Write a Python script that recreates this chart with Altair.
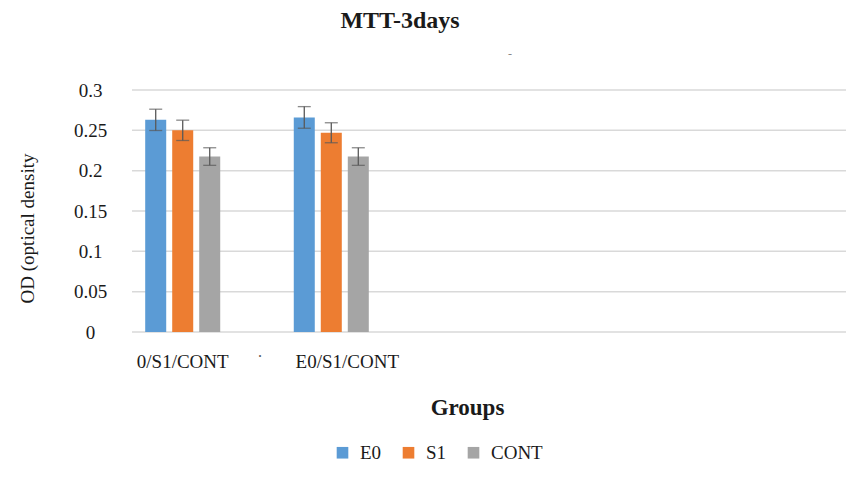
import altair as alt
import pandas as pd

groups = ["0/S1/CONT", "E0/S1/CONT"]
series = ["E0", "S1", "CONT"]
colors = ["#5B9BD5", "#ED7D31", "#A5A5A5"]
E0_vals = [0.263, 0.266]
S1_vals = [0.250, 0.247]
CONT_vals = [0.2175, 0.2175]
E0_err = [0.0132, 0.0134]
S1_err = [0.0126, 0.0124]
CONT_err = [0.0109, 0.0109]
y_ticks = [0, 0.05, 0.1, 0.15, 0.2, 0.25, 0.3]

rows = []
for s, vals, errs in [("E0", E0_vals, E0_err), ("S1", S1_vals, S1_err), ("CONT", CONT_vals, CONT_err)]:
    for g, v, e in zip(groups, vals, errs):
        rows.append({"group": g, "series": s, "value": v, "lo": v - e, "hi": v + e})
df = pd.DataFrame(rows)
grid_df = pd.DataFrame({"tick": y_ticks})

FONT = "Liberation Serif"
TXT = "#1a1a1a"

x_axis = alt.Axis(
    title="Groups", titleFont=FONT, titleFontSize=23, titleFontWeight="bold",
    titleColor=TXT, titleX=335, titleY=75, titleBaseline="middle",
    labelFont=FONT, labelFontSize=19, labelColor=TXT, labelPadding=20,
    labelOffset={"condition": {"test": "datum.value == 'E0/S1/CONT'", "value": 16}, "value": 0},
    domain=False, ticks=False, grid=False, labelAngle=0,
)
x_scale = alt.Scale(domain=groups, range=[13.2, 236.8], paddingInner=0.495, paddingOuter=0)
xo_enc = alt.XOffset("series:N", scale=alt.Scale(domain=series, paddingInner=0.222, paddingOuter=0))
y_scale = alt.Scale(domain=[0, 0.3], nice=False)
y_axis = alt.Axis(values=y_ticks, format="~g", title="OD (optical density", titleFont=FONT,
                  titleFontSize=19, titleFontWeight="normal", titleColor=TXT,
                  titleX=-95, titleY=138, titleAngle=-90, titleAlign="center",
                  labelFont=FONT, labelFontSize=19, labelColor=TXT, labelPadding=42,
                  labelAlign="center",
                  domain=False, ticks=False, grid=False)

def X():
    return alt.X("group:N", scale=x_scale, axis=x_axis)

grid = alt.Chart(grid_df).mark_rule(color="#D9D9D9", strokeWidth=1.5).encode(
    y=alt.Y("tick:Q", scale=y_scale, axis=y_axis),
    x=alt.value(0), x2=alt.value(714),
)

bars = alt.Chart(df).mark_bar().encode(
    x=X(),
    xOffset=xo_enc,
    y=alt.Y("value:Q", scale=y_scale, axis=y_axis),
    color=alt.Color("series:N", scale=alt.Scale(domain=series, range=colors),
                    legend=alt.Legend(orient="none", legendX=201, legendY=353, direction="horizontal",
                                      title=None, symbolType="square", symbolSize=135,
                                      symbolStrokeWidth=0, labelFont=FONT, labelFontSize=19,
                                      labelColor=TXT, columnPadding=17, labelOffset=8)),
)

rules = alt.Chart(df).mark_rule(color="#595959", strokeWidth=1.3).encode(
    x=X(), xOffset=xo_enc,
    y=alt.Y("lo:Q", scale=y_scale, axis=y_axis), y2="hi:Q",
)
caps_hi = alt.Chart(df).mark_tick(color="#595959", size=13, thickness=1.3).encode(
    x=X(), xOffset=xo_enc, y=alt.Y("hi:Q", scale=y_scale, axis=y_axis),
)
caps_lo = alt.Chart(df).mark_tick(color="#595959", size=13, thickness=1.3).encode(
    x=X(), xOffset=xo_enc, y=alt.Y("lo:Q", scale=y_scale, axis=y_axis),
)

title_txt = alt.Chart(pd.DataFrame({"t": ["MTT-3days"]})).mark_text(
    font=FONT, fontSize=24, fontWeight="bold", color=TXT, baseline="middle", align="center"
).encode(text="t:N", x=alt.value(268), y=alt.value(-69))
dot = alt.Chart(pd.DataFrame({"t": ["."]})).mark_text(font=FONT, fontSize=16, color="#555555").encode(
    text="t:N", x=alt.value(128), y=alt.value(262))
dash = alt.Chart(pd.DataFrame({"t": ["-"]})).mark_text(font=FONT, fontSize=12, color="#888888").encode(
    text="t:N", x=alt.value(378), y=alt.value(-36))

chart = alt.layer(grid, bars, rules, caps_hi, caps_lo, title_txt, dot, dash).properties(
    width=714, height=242,
    autosize=alt.AutoSizeParams(type="none"),
    padding={"left": 124, "top": 82, "right": 0, "bottom": 150},
).configure(background="white", font=FONT).configure_view(stroke=None).configure_axis(
    labelFont=FONT, titleFont=FONT
).configure_legend(labelFont=FONT)

chart.save("out.html", embed_options={"renderer": "svg", "actions": False})
